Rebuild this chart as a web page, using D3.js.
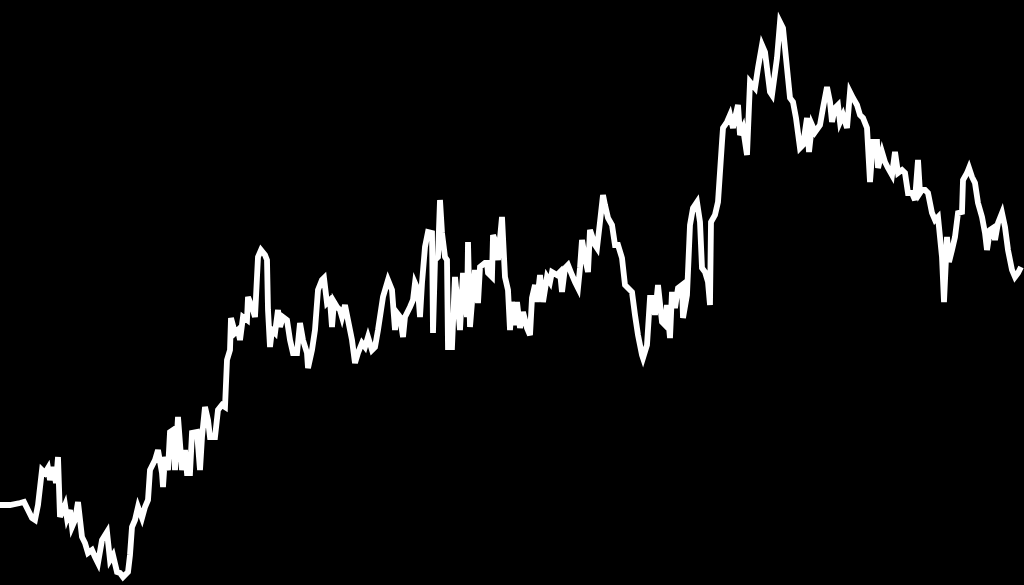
<!DOCTYPE html>
<html>
<head>
<meta charset="utf-8">
<script src="https://cdn.jsdelivr.net/npm/d3@7"></script>
<style>
html,body{margin:0;padding:0;background:#000;overflow:hidden;}
svg{display:block;}
</style>
</head>
<body>
<svg id="chart" width="1024" height="585"></svg>
<script>
const days = [0,10,20,24,28,32,35,38,42,45,48,50,53,56,58,60,65,67,70,72,75,78,82,85,88,92,95,98,102,107,110,113,117,120,123,128,130,132,135,138,142,145,148,150,155,158,162,163,165,168,170,173,175,178,182,185,187,190,192,197,200,202,205,208,210,215,218,222,225,227,230,231,235,238,240,243,247,248,252,255,258,261,265,267,268,270,272,275,278,280,283,287,290,293,297,300,303,307,308,312,315,318,322,324,327,330,332,334,337,340,342,345,348,352,355,358,362,365,368,372,375,378,383,388,392,395,397,400,403,405,410,413,415,418,420,422,425,428,432,433,435,438,440,442,445,447,448,452,453,455,458,460,463,465,467,468,470,473,475,477,478,480,485,487,488,492,493,495,498,502,505,508,510,512,515,517,520,523,527,530,532,535,537,540,543,547,550,552,557,560,562,565,568,572,575,578,580,582,585,588,590,595,597,600,603,605,608,612,615,618,622,625,628,632,635,638,642,643,647,650,653,655,658,662,665,667,670,672,675,678,682,683,687,690,693,697,700,702,705,708,710,711,715,718,722,723,727,730,733,735,738,740,743,747,750,755,758,762,765,767,770,772,777,780,783,787,790,793,796,800,803,807,809,812,815,820,823,827,830,832,835,838,840,843,847,850,853,857,860,863,867,870,873,877,878,882,885,888,892,895,898,902,905,908,912,915,918,920,922,925,928,932,935,938,942,944,947,949,952,955,958,962,963,967,969,972,975,978,982,985,987,990,993,995,998,1002,1005,1008,1012,1015,1018,1021];
const values = [80,80,82,83,75,67,65,80,115,112,117,105,118,102,128,68,80,67,75,58,65,83,48,42,32,35,28,22,45,53,25,30,13,12,8,13,30,58,65,78,67,78,85,115,125,135,112,98,128,115,153,155,115,168,115,135,112,112,152,153,115,148,178,165,148,148,175,180,178,225,235,267,252,255,245,268,265,288,278,268,328,335,330,325,275,238,255,252,275,258,268,265,245,232,232,262,245,232,217,235,255,295,305,307,282,285,258,283,278,275,268,280,265,245,222,232,242,238,248,235,238,255,288,305,295,255,272,268,248,268,278,285,302,295,268,302,338,353,352,252,325,328,385,352,328,325,238,238,262,308,278,255,312,285,268,343,258,295,315,295,282,318,322,322,312,308,350,345,325,368,308,295,255,283,260,283,257,273,257,250,287,300,283,310,283,308,303,313,310,313,293,317,320,310,303,297,317,345,327,313,355,340,337,363,390,380,367,360,340,340,327,300,297,293,270,250,230,227,240,287,287,270,300,263,260,280,247,293,277,297,300,267,290,360,377,383,363,317,313,303,280,363,370,383,443,457,463,470,457,467,480,450,457,430,503,497,517,540,533,517,493,490,527,563,557,517,487,483,467,437,440,467,433,460,453,460,477,498,483,463,477,480,463,470,457,493,487,480,470,467,457,403,443,443,417,433,423,417,410,433,412,415,412,392,392,385,425,392,395,395,392,372,365,368,328,283,348,323,335,348,372,373,405,412,417,408,402,382,368,352,335,355,357,345,362,372,358,335,315,308,312,318];

const W = 1024, H = 585;
const svg = d3.select('#chart');
svg.append('rect').attr('width', W).attr('height', H).attr('fill', '#000');

const x = d3.scaleLinear().domain([0, 1024]).range([0, W]);
const y = d3.scaleLinear().domain([0, 585]).range([H, 0]);

const data = days.map((d, i) => ({d, v: values[i]}));
const line = d3.line().x(p => x(p.d)).y(p => y(p.v));

svg.append('path')
  .datum(data)
  .attr('d', line)
  .attr('fill', 'none')
  .attr('stroke', '#fff')
  .attr('stroke-width', 5.8)
  .attr('stroke-linejoin', 'miter')
  .attr('stroke-miterlimit', 4);
</script>
</body>
</html>
